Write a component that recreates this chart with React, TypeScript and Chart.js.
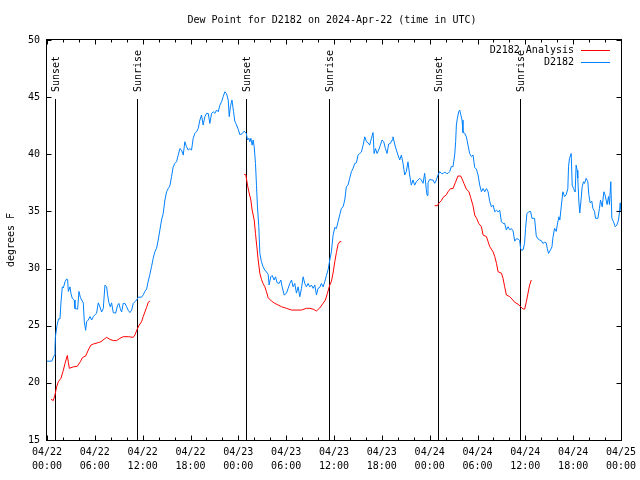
import React, { useEffect, useRef } from "react";
import { Chart, registerables } from "chart.js";

Chart.register(...registerables);

const FONT = '"DejaVu Sans Mono", "Liberation Mono", monospace';

const chartTitle = "Dew Point for D2182 on 2024-Apr-22 (time in UTC)";
const yAxisTitle = "degrees F";
const seriesNames = ["D2182 Analysis", "D2182"];
const seriesColors = ["#ff0000", "#0080ff"];

const xMin = 0;
const xMax = 72;
const xMajorStep = 6;
const xMinorStep = 2;
const xTickDates = ["04/22", "04/22", "04/22", "04/22", "04/23", "04/23", "04/23", "04/23", "04/24", "04/24", "04/24", "04/24", "04/25"];
const xTickTimes = ["00:00", "06:00", "12:00", "18:00", "00:00", "06:00", "12:00", "18:00", "00:00", "06:00", "12:00", "18:00", "00:00"];
const yMin = 15;
const yMax = 50;
const yStep = 5;

const eventHours = [1.04, 11.32, 24.98, 35.38, 49.04, 59.32];
const eventLabels = ["Sunset", "Sunrise", "Sunset", "Sunrise", "Sunset", "Sunrise"];
const eventLineTop = 44.8;

// [hour since 04/22 00:00 UTC, dew point F]
const stationSeries: [number, number][] = [
  [0, 21.9], [0.6, 21.9], [0.9, 22.4], [1.0, 23.0], [1.05, 24.0], [1.25, 25.0], [1.45, 25.6], [1.63, 25.6],
  [1.75, 27.0], [1.92, 28.4], [2.05, 28.3], [2.26, 28.85], [2.47, 29.1], [2.59, 29.0], [2.68, 28.0], [2.88, 28.4],
  [3.01, 27.8], [3.17, 27.4], [3.42, 27.25], [3.51, 26.5], [3.84, 26.45], [4.01, 28.0], [4.18, 27.5], [4.34, 27.25],
  [4.55, 27.0], [4.68, 25.35], [4.85, 24.6], [4.97, 25.35], [5.18, 25.5], [5.39, 25.8], [5.6, 25.5], [5.81, 25.8],
  [6.02, 25.95], [6.22, 26.1], [6.43, 27.0], [6.64, 26.65], [6.85, 26.2], [7.06, 26.5], [7.27, 28.55], [7.48, 28.4],
  [7.6, 27.7], [7.77, 27.0], [7.94, 26.65], [8.1, 27.0], [8.31, 26.15], [8.61, 26.1], [8.86, 26.8], [9.02, 26.95],
  [9.19, 26.5], [9.36, 26.2], [9.56, 26.95], [9.78, 26.95], [9.99, 26.65], [10.19, 26.35], [10.4, 26.15], [10.61, 26.35],
  [10.82, 26.95], [11.03, 27.1], [11.24, 27.25], [11.45, 27.5], [11.86, 27.5], [12.07, 27.7], [12.28, 28.0], [12.49, 28.2],
  [12.7, 28.9], [12.91, 29.5], [13.12, 30.2], [13.32, 30.9], [13.53, 31.47], [13.74, 31.77], [13.95, 32.5], [14.16, 33.37],
  [14.37, 34.25], [14.58, 34.83], [14.79, 36.0], [15.0, 36.72], [15.2, 37.0], [15.41, 37.22], [15.62, 38.04], [15.83, 38.9],
  [16.04, 39.2], [16.25, 39.35], [16.46, 39.93], [16.67, 40.5], [16.88, 40.37], [17.09, 39.93], [17.29, 41.1], [17.5, 40.66],
  [17.71, 40.37], [17.92, 40.5], [18.13, 40.37], [18.34, 41.4], [18.55, 41.83], [18.76, 41.98], [18.97, 42.27], [19.18, 43.0],
  [19.38, 43.43], [19.59, 42.56], [19.8, 43.29], [20.01, 43.58], [20.22, 43.58], [20.43, 42.7], [20.64, 43.58], [20.85, 43.72],
  [21.06, 43.58], [21.27, 43.87], [21.48, 43.72], [21.69, 44.3], [21.9, 44.6], [22.1, 45.04], [22.31, 45.47], [22.52, 45.3],
  [22.73, 44.75], [22.86, 43.29], [23.0, 44.16], [23.2, 44.75], [23.4, 43.72], [23.56, 42.9], [23.69, 42.7], [23.98, 42.2],
  [24.19, 41.72], [24.48, 41.8], [24.73, 42.03], [25.0, 41.83], [25.15, 41.25], [25.32, 41.4], [25.44, 41.1], [25.57, 41.4],
  [25.73, 40.8], [25.86, 41.25], [25.99, 40.66], [26.15, 39.2], [26.28, 37.25], [26.4, 35.4], [26.57, 33.66], [26.7, 31.33],
  [26.9, 30.6], [27.1, 30.16], [27.32, 29.87], [27.53, 29.7], [27.74, 29.5], [27.86, 28.56], [28.07, 29.28], [28.24, 29.4],
  [28.49, 29.0], [28.66, 29.28], [28.87, 28.76], [29.12, 28.7], [29.33, 29.0], [29.5, 28.4], [29.75, 27.69], [30.04, 27.85],
  [30.25, 28.27], [30.46, 28.7], [30.67, 29.0], [30.87, 28.4], [31.08, 28.7], [31.29, 27.85], [31.5, 28.4], [31.71, 27.54],
  [31.92, 28.27], [32.13, 29.28], [32.33, 28.7], [32.54, 28.4], [32.75, 28.7], [32.96, 28.4], [33.17, 28.56], [33.38, 28.27],
  [33.59, 28.56], [33.8, 27.69], [34.0, 28.27], [34.21, 28.35], [34.42, 28.7], [34.63, 28.4], [34.84, 28.85], [35.05, 29.4],
  [35.26, 29.9], [35.47, 30.75], [35.68, 31.5], [35.88, 32.9], [36.1, 33.6], [36.3, 33.5], [36.51, 34.1], [36.72, 34.7],
  [36.93, 35.27], [37.14, 35.4], [37.35, 36.0], [37.55, 37.17], [37.76, 37.3], [37.97, 37.9], [38.18, 38.48], [38.39, 38.77],
  [38.6, 39.2], [38.81, 39.25], [39.02, 39.93], [39.23, 40.07], [39.44, 40.2], [39.65, 40.8], [39.86, 41.53], [40.07, 41.1],
  [40.28, 41.0], [40.48, 40.8], [40.69, 41.4], [40.9, 41.9], [41.03, 40.07], [41.2, 40.5], [41.4, 40.07], [41.6, 40.37],
  [41.82, 40.8], [42.03, 41.25], [42.24, 41.1], [42.45, 40.5], [42.65, 40.07], [42.86, 40.9], [43.07, 40.95], [43.28, 41.25],
  [43.4, 41.53], [43.61, 40.9], [43.82, 40.37], [44.03, 39.93], [44.24, 39.5], [44.45, 39.93], [44.66, 39.2], [44.87, 38.19],
  [45.07, 38.48], [45.28, 39.34], [45.49, 38.19], [45.7, 37.3], [45.91, 37.75], [46.12, 37.3], [46.33, 37.6], [46.54, 37.75],
  [46.75, 37.9], [46.96, 37.75], [47.17, 37.46], [47.37, 38.34], [47.58, 36.9], [47.68, 36.4], [47.79, 37.5], [48.0, 37.8],
  [48.3, 37.75], [48.42, 37.75], [48.63, 37.46], [48.84, 37.75], [49.05, 38.2], [49.26, 38.48], [49.46, 38.33], [49.67, 38.3],
  [49.88, 38.45], [50.09, 38.33], [50.3, 38.33], [50.51, 38.48], [50.72, 38.92], [50.93, 38.92], [51.14, 39.95], [51.26, 41.1],
  [51.35, 42.56], [51.47, 43.14], [51.64, 43.72], [51.77, 43.87], [51.89, 43.5], [52.06, 42.99], [52.18, 41.9], [52.4, 41.85],
  [52.6, 41.53], [52.81, 40.8], [53.02, 40.07], [53.23, 39.8], [53.44, 39.93], [53.65, 38.85], [53.86, 38.7], [54.07, 38.19],
  [54.28, 37.3], [54.49, 36.72], [54.7, 37.0], [54.91, 36.72], [55.12, 37.0], [55.33, 36.72], [55.54, 35.85], [55.75, 35.4],
  [55.96, 35.55], [56.17, 34.97], [56.38, 35.1], [56.58, 34.97], [56.79, 35.1], [57.0, 34.09], [57.2, 33.95], [57.41, 33.95],
  [57.62, 33.37], [57.83, 33.66], [58.04, 33.4], [58.25, 33.5], [58.46, 33.3], [58.67, 32.4], [58.88, 32.6], [59.09, 32.6],
  [59.29, 32.45], [59.4, 31.77], [59.5, 31.62], [59.71, 31.62], [59.9, 32.2], [60.03, 33.5], [60.2, 34.83], [60.45, 34.97],
  [60.66, 35.0], [60.83, 34.4], [61.16, 34.4], [61.37, 32.86], [61.58, 32.6], [61.79, 32.5], [62.0, 32.45], [62.2, 32.2],
  [62.41, 32.3], [62.62, 32.25], [62.75, 31.77], [62.91, 31.33], [63.13, 31.6], [63.34, 31.9], [63.46, 32.7], [63.67, 33.52],
  [63.88, 33.25], [64.0, 33.8], [64.21, 34.53], [64.33, 34.25], [64.5, 35.4], [64.71, 36.72], [64.92, 36.3], [65.12, 36.45],
  [65.33, 37.0], [65.42, 38.92], [65.54, 39.64], [65.75, 40.07], [65.88, 37.3], [66.04, 37.0], [66.25, 36.7], [66.37, 39.05],
  [66.5, 38.6], [66.58, 37.9], [66.71, 35.9], [66.83, 34.87], [67.0, 36.1], [67.13, 37.17], [67.3, 37.6], [67.42, 37.45],
  [67.63, 37.9], [67.84, 37.6], [67.96, 36.5], [68.13, 35.75], [68.34, 35.9], [68.47, 35.27], [68.68, 35.0], [68.8, 34.4],
  [69.1, 34.4], [69.3, 35.27], [69.43, 36.0], [69.64, 35.4], [69.85, 36.72], [70.0, 36.45], [70.13, 36.0], [70.26, 35.6],
  [70.43, 36.3], [70.55, 35.6], [70.72, 37.6], [70.85, 34.4], [71.06, 34.1], [71.27, 33.66], [71.48, 33.8], [71.69, 34.25],
  [71.82, 35.0], [71.9, 35.75], [72.0, 35.0],
];

// analysis series, null marks a gap
const analysisSeries: [number, number | null][] = [
  [0.5, 18.56], [0.79, 18.45], [1.0, 18.94], [1.21, 19.66], [1.42, 20.1], [1.75, 20.4], [2.05, 21.1], [2.26, 21.7],
  [2.55, 22.4], [2.68, 21.8], [2.8, 21.27], [3.3, 21.4], [3.8, 21.45], [4.18, 21.85], [4.47, 22.23], [4.85, 22.35],
  [5.18, 22.87], [5.5, 23.3], [5.81, 23.4], [6.43, 23.52], [6.77, 23.6], [7.19, 23.84], [7.48, 23.98], [7.9, 23.8],
  [8.31, 23.7], [8.73, 23.7], [9.15, 23.9], [9.56, 24.04], [10.19, 24.04], [10.82, 23.98], [11.03, 24.2], [11.36, 24.77],
  [11.57, 25.06], [11.86, 25.35], [12.07, 25.8], [12.28, 26.2], [12.49, 26.6], [12.7, 27.05], [12.91, 27.16],
  [18, null],
  [24.73, 38.25], [24.94, 38.2], [25.15, 37.3], [25.32, 36.72], [25.57, 36.0], [25.73, 35.12], [25.99, 34.25], [26.15, 33.08],
  [26.32, 31.91], [26.49, 30.75], [26.7, 29.58], [26.9, 29.06], [27.1, 28.7], [27.32, 28.41], [27.53, 27.98], [27.74, 27.45],
  [28.15, 27.16], [28.57, 26.96], [28.99, 26.81], [29.41, 26.66], [30.04, 26.52], [30.67, 26.37], [31.92, 26.37], [32.54, 26.52],
  [32.96, 26.52], [33.38, 26.45], [33.8, 26.29], [34.21, 26.55], [34.63, 26.96], [34.92, 27.25], [35.17, 27.83], [35.47, 28.56],
  [35.68, 28.9], [35.88, 29.6], [36.1, 30.6], [36.3, 31.4], [36.5, 32.1], [36.72, 32.35], [36.93, 32.35],
  [42, null],
  [48.63, 35.5], [48.96, 35.5], [49.13, 35.7], [49.46, 35.94], [49.67, 36.22], [50.09, 36.45], [50.3, 36.72], [50.63, 37.0],
  [50.93, 37.0], [51.22, 37.52], [51.55, 38.1], [51.89, 38.1], [52.06, 37.85], [52.3, 37.45], [52.6, 36.95], [52.93, 36.72],
  [53.14, 36.22], [53.44, 35.5], [53.65, 34.68], [53.9, 34.39], [54.15, 33.96], [54.49, 33.66], [54.7, 32.93], [55.12, 32.8],
  [55.33, 32.35], [55.54, 31.91], [55.95, 31.47], [56.17, 31.04], [56.38, 30.46], [56.58, 29.72], [57.0, 29.6], [57.2, 29.15],
  [57.41, 28.41], [57.62, 27.69], [58.04, 27.54], [58.33, 27.33], [58.67, 27.05], [59.09, 26.88], [59.42, 26.66], [59.71, 26.46],
  [59.92, 26.46], [60.13, 27.1], [60.33, 27.83], [60.54, 28.56], [60.75, 29.0],
];

const decorPlugin = {
  id: "gnuplotDecor",
  beforeDatasetsDraw(chart: any) {
    const { ctx, chartArea, scales } = chart;
    const x = scales.x;
    const y = scales.y;
    ctx.save();
    ctx.strokeStyle = "#000";
    ctx.lineWidth = 1;
    const yTop = Math.round(y.getPixelForValue(eventLineTop));
    eventHours.forEach((h) => {
      const px = Math.round(x.getPixelForValue(h)) + 0.5;
      ctx.beginPath();
      ctx.moveTo(px, yTop);
      ctx.lineTo(px, chartArea.bottom + 0.5);
      ctx.stroke();
    });
    ctx.restore();
  },
  afterDraw(chart: any) {
    const { ctx, chartArea, scales } = chart;
    const x = scales.x;
    const y = scales.y;
    const { left, right, top, bottom } = chartArea;
    ctx.save();
    ctx.strokeStyle = "#000";
    ctx.lineWidth = 1;
    // border box
    ctx.strokeRect(left - 0.5, top - 0.5, right - left + 1, bottom - top + 1);
    // x ticks (major + minor), bottom and top, pointing inward
    ctx.beginPath();
    for (let h = xMin; h <= xMax; h += xMinorStep) {
      const major = h % xMajorStep === 0;
      const len = major ? 5 : 3;
      const px = Math.round(x.getPixelForValue(h)) + 0.5;
      ctx.moveTo(px, bottom + 0.5);
      ctx.lineTo(px, bottom + 0.5 - len);
      ctx.moveTo(px, top - 0.5);
      ctx.lineTo(px, top - 0.5 + len);
    }
    // y ticks, left and right
    y.ticks.forEach((t: any) => {
      const py = Math.round(y.getPixelForValue(t.value)) + 0.5;
      ctx.moveTo(left - 0.5, py);
      ctx.lineTo(left - 0.5 + 5, py);
      ctx.moveTo(right + 0.5, py);
      ctx.lineTo(right + 0.5 - 5, py);
    });
    ctx.stroke();

    ctx.fillStyle = "#000";
    ctx.font = `10px ${FONT}`;
    // title
    ctx.textAlign = "center";
    ctx.textBaseline = "middle";
    ctx.fillText(chartTitle, 332, 20);
    // y axis title
    ctx.save();
    ctx.translate(11, (top + bottom) / 2);
    ctx.rotate(-Math.PI / 2);
    ctx.fillText(yAxisTitle, 0, 0);
    ctx.restore();
    // event labels
    eventHours.forEach((h, i) => {
      const px = Math.round(x.getPixelForValue(h)) + 1;
      ctx.save();
      ctx.translate(px, 92);
      ctx.rotate(-Math.PI / 2);
      ctx.textAlign = "left";
      ctx.textBaseline = "middle";
      ctx.fillText(eventLabels[i], 0, 0);
      ctx.restore();
    });
    // legend
    const legendY = [50, 62.5];
    seriesNames.forEach((name, i) => {
      ctx.textAlign = "right";
      ctx.textBaseline = "middle";
      ctx.fillStyle = "#000";
      ctx.fillText(name, 574, legendY[i]);
      ctx.strokeStyle = seriesColors[i];
      ctx.beginPath();
      const ly = Math.floor(legendY[i]) + 0.5;
      ctx.moveTo(581, ly);
      ctx.lineTo(610, ly);
      ctx.stroke();
    });
    ctx.restore();
  },
};

export default function App() {
  const canvasRef = useRef<HTMLCanvasElement | null>(null);

  useEffect(() => {
    const canvas = canvasRef.current;
    if (!canvas) return;
    const analysisData = analysisSeries.map(([h, v]) => ({ x: h, y: v }));
    const stationData = stationSeries.map(([h, v]) => ({ x: h, y: v }));
    const chart = new Chart(canvas, {
      type: "line",
      data: {
        datasets: [
          {
            label: seriesNames[0],
            data: analysisData as any,
            borderColor: seriesColors[0],
            borderWidth: 1,
            pointRadius: 0,
            tension: 0,
            spanGaps: false,
            fill: false,
            order: 1,
          },
          {
            label: seriesNames[1],
            data: stationData as any,
            borderColor: seriesColors[1],
            borderWidth: 1,
            pointRadius: 0,
            tension: 0,
            fill: false,
            order: 0,
          },
        ],
      },
      options: {
        responsive: false,
        animation: false,
        devicePixelRatio: 1,
        layout: { padding: { left: 0, right: 19, top: 40, bottom: 0 } },
        plugins: {
          legend: { display: false },
          title: { display: false },
          tooltip: { enabled: false },
        },
        scales: {
          x: {
            type: "linear",
            min: xMin,
            max: xMax,
            afterFit: (s: any) => {
              s.height = 40;
              s.paddingLeft = 0;
              s.paddingRight = 0;
            },
            grid: { display: false, drawTicks: false },
            border: { display: false },
            ticks: {
              stepSize: xMajorStep,
              maxTicksLimit: 30,
              autoSkip: false,
              maxRotation: 0,
              minRotation: 0,
              padding: 6,
              color: "#000",
              font: { family: FONT, size: 10, lineHeight: 1.34 },
              callback: (value: any) => {
                const i = Math.round(Number(value) / xMajorStep);
                return [xTickDates[i], xTickTimes[i]];
              },
            },
          },
          y: {
            type: "linear",
            min: yMin,
            max: yMax,
            afterFit: (s: any) => {
              s.width = 47;
              s.paddingTop = 0;
              s.paddingBottom = 0;
            },
            grid: { display: false, drawTicks: false },
            border: { display: false },
            ticks: {
              stepSize: yStep,
              padding: 7,
              color: "#000",
              font: { family: FONT, size: 10 },
            },
          },
        },
      },
      plugins: [decorPlugin],
    });
    return () => chart.destroy();
  }, []);

  return (
    <div style={{ position: "absolute", left: 0, top: 0, width: 640, height: 480, background: "#fff" }}>
      <canvas ref={canvasRef} width={640} height={480} style={{ display: "block", width: 640, height: 480 }} />
    </div>
  );
}
